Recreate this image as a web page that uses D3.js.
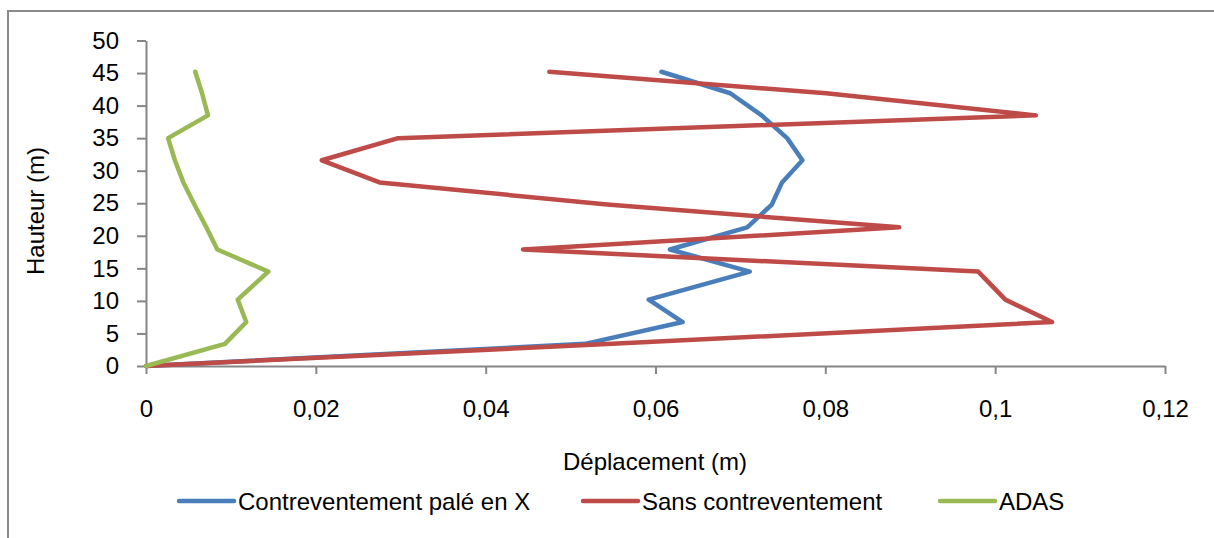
<!DOCTYPE html>
<html>
<head>
<meta charset="utf-8">
<script src="https://cdn.jsdelivr.net/npm/d3@7"></script>
<style>
  html, body { margin: 0; padding: 0; background: #fff; }
  svg { display: block; }
  text { font-family: "Liberation Sans", Arial, sans-serif; fill: #000; }
</style>
</head>
<body>
<svg id="chart" width="1214" height="538"></svg>
<script>
// ---- data ----
const heights = [0, 3.4, 6.75, 10.2, 14.5, 17.9, 21.3, 24.8, 28.2, 31.6, 35.0, 38.5, 41.9, 45.2];
const palee   = [0, 0.0517, 0.0632, 0.0592, 0.0711, 0.0617, 0.0708, 0.0737, 0.0749, 0.0773, 0.0755, 0.0725, 0.0688, 0.0607];
const sans    = [0, 0.0549, 0.1067, 0.1012, 0.0980, 0.0444, 0.0887, 0.0543, 0.0275, 0.0207, 0.0297, 0.1048, 0.0801, 0.0475];
const adas    = [0, 0.0093, 0.0118, 0.0108, 0.0144, 0.0084, 0.0071, 0.0057, 0.0044, 0.0034, 0.0026, 0.0073, 0.0066, 0.0058];
const seriesNames = ["Contreventement palé en X", "Sans contreventement", "ADAS"];
const seriesColors = ["#4a7ebb", "#be4b48", "#98b954"];
const xTicks = [0, 0.02, 0.04, 0.06, 0.08, 0.1, 0.12];
const yTicks = [0, 5, 10, 15, 20, 25, 30, 35, 40, 45, 50];
const xTitle = "Déplacement (m)";
const yTitle = "Hauteur (m)";

const svg = d3.select("#chart");

// outer frame (extends past the bottom/right of the picture)
svg.append("rect")
  .attr("x", 8).attr("y", 11)
  .attr("width", 1240).attr("height", 560)
  .attr("fill", "none").attr("stroke", "#8a8a8a").attr("stroke-width", 2);

const x = d3.scaleLinear().domain([0, 0.12]).range([146, 1165]);
const y = d3.scaleLinear().domain([0, 50]).range([366, 40.5]);

const fmt = d => (d === 0 ? "0" : String(+d.toFixed(2)).replace(".", ","));

// x axis
const gx = svg.append("g").attr("transform", `translate(0,${y(0)})`)
  .call(d3.axisBottom(x).tickValues(xTicks).tickFormat(fmt).tickSize(8).tickSizeOuter(0));
gx.select(".domain").attr("stroke", "#868686").attr("stroke-width", 2);
gx.selectAll(".tick line").attr("stroke", "#868686").attr("stroke-width", 2);
gx.selectAll(".tick text").attr("y", 34).attr("font-size", 24)
  .attr("font-family", "Liberation Sans, Arial, sans-serif").attr("fill", "#000");

// y axis
const gy = svg.append("g").attr("transform", `translate(${x(0)},0)`)
  .call(d3.axisLeft(y).tickValues(yTicks).tickFormat(d3.format("d")).tickSize(9).tickSizeOuter(0));
gy.select(".domain").attr("stroke", "#868686").attr("stroke-width", 2);
gy.selectAll(".tick line").attr("stroke", "#868686").attr("stroke-width", 2);
gy.selectAll(".tick text").attr("x", -27).attr("font-size", 24)
  .attr("font-family", "Liberation Sans, Arial, sans-serif").attr("fill", "#000");

// axis titles
svg.append("text").attr("x", 655).attr("y", 470).attr("text-anchor", "middle")
  .attr("font-size", 24).text(xTitle);
svg.append("text").attr("transform", "translate(44,211) rotate(-90)")
  .attr("text-anchor", "middle").attr("font-size", 24).text(yTitle);

// lines
const allSeries = [palee, sans, adas];
const line = d3.line().x(d => x(d[0])).y(d => y(d[1]));
allSeries.forEach((vals, i) => {
  const pts = vals.map((v, k) => [v, heights[k]]);
  svg.append("path").datum(pts)
    .attr("d", line)
    .attr("fill", "none")
    .attr("stroke", seriesColors[i])
    .attr("stroke-width", 4.5)
    .attr("stroke-linejoin", "round")
    .attr("stroke-linecap", "round");
});

// legend
const legendX = [179, 583, 940];
seriesNames.forEach((name, i) => {
  svg.append("line")
    .attr("x1", legendX[i]).attr("x2", legendX[i] + 55)
    .attr("y1", 501).attr("y2", 501)
    .attr("stroke", seriesColors[i]).attr("stroke-width", 4.5).attr("stroke-linecap", "round");
  svg.append("text").attr("x", legendX[i] + 59).attr("y", 509.5)
    .attr("font-size", 24).text(name);
});
</script>
</body>
</html>
